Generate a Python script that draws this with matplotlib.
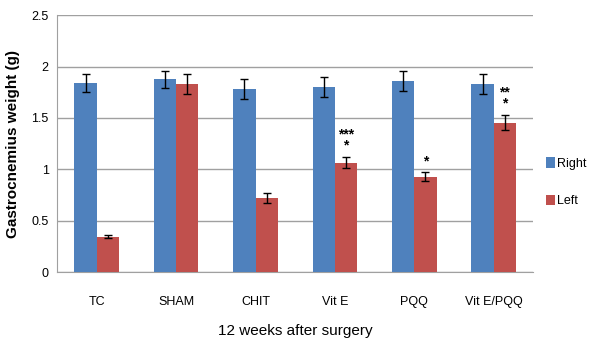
import numpy as np
import matplotlib.pyplot as plt

# Data
groups = ['TC', 'SHAM', 'CHIT', 'Vit E', 'PQQ', 'Vit E/PQQ']
right = [1.84, 1.875, 1.78, 1.80, 1.86, 1.83]
right_err = [0.09, 0.085, 0.10, 0.10, 0.10, 0.10]
left = [0.345, 1.83, 0.72, 1.065, 0.93, 1.455]
left_err = [0.015, 0.10, 0.045, 0.055, 0.04, 0.075]
stars = ['', '', '', '***\n*', '*', '**\n*']

plt.rcParams['font.family'] = ['Liberation Sans', 'DejaVu Sans']

fig = plt.figure(figsize=(5.91, 3.44), dpi=100)
ax = fig.add_axes([0.0965, 0.209, 0.806, 0.747])

x = np.arange(len(groups))
w = 0.28
ax.bar(x - w / 2, right, w, yerr=right_err, color='#4F81BD', label='Right',
       error_kw=dict(ecolor='black', elinewidth=1, capsize=3, capthick=1), zorder=3)
ax.bar(x + w / 2, left, w, yerr=left_err, color='#C0504D', label='Left',
       error_kw=dict(ecolor='black', elinewidth=1, capsize=3, capthick=1), zorder=3)

# significance marks above the left bars
for xi, v, e, s in zip(x, left, left_err, stars):
    if s:
        ax.text(xi + w / 2, v + e + 0.04, s, ha='center', va='bottom',
                fontsize=10, fontweight='bold', linespacing=0.75)

ax.set_xlim(-0.5, len(groups) - 0.5)
ax.set_ylim(0, 2.5)
ax.set_yticks([0, 0.5, 1, 1.5, 2, 2.5])
ax.set_yticklabels(['0', '0.5', '1', '1.5', '2', '2.5'])
ax.set_xticks(x)
ax.set_xticklabels(groups)
ax.tick_params(axis='both', length=0, labelsize=9)
ax.tick_params(axis='x', pad=17)
ax.tick_params(axis='y', pad=6)
ax.yaxis.grid(True, color='#a0a0a0', linewidth=1, zorder=0)
for sp in ['top', 'right']:
    ax.spines[sp].set_visible(False)
ax.spines['left'].set_color('#a0a0a0')
ax.spines['bottom'].set_color('#a0a0a0')

ax.set_ylabel('Gastrocnemius weight (g)', fontsize=11, fontweight='bold', labelpad=8)
ax.set_xlabel('12 weeks after surgery', fontsize=11, labelpad=12)

ax.legend(loc='center left', bbox_to_anchor=(1.005, 0.35), frameon=False,
          fontsize=9, handlelength=0.7, handleheight=0.9, handletextpad=0.2,
          labelspacing=2.0, borderpad=0.3)

fig.savefig('out.png', dpi=100)
